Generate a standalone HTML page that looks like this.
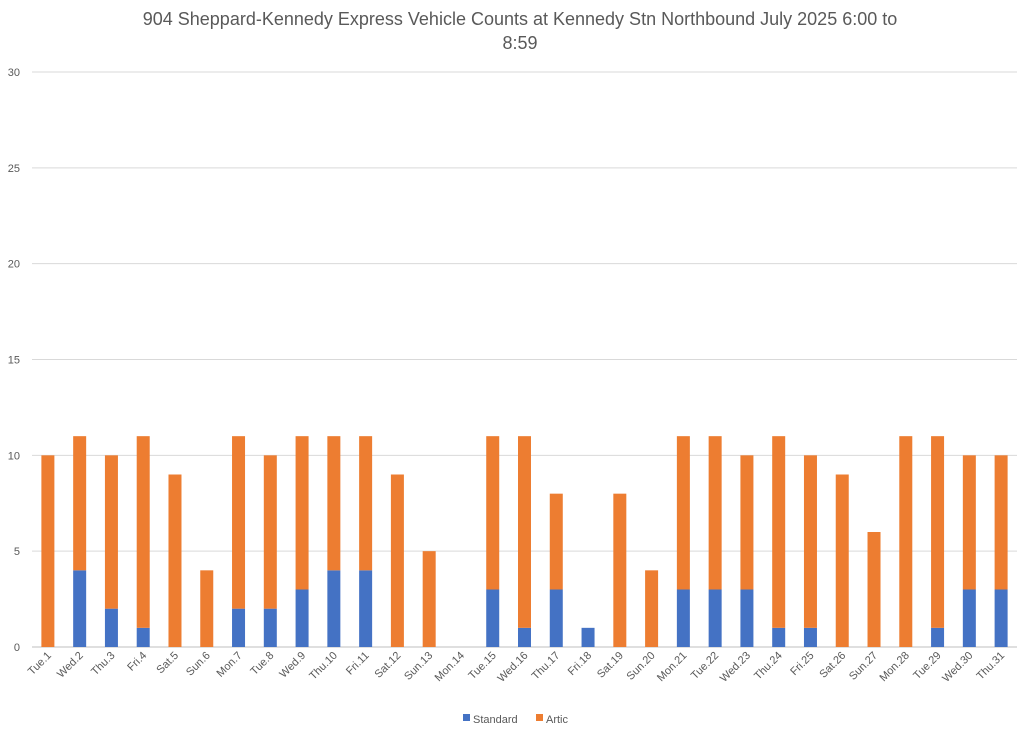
<!DOCTYPE html>
<html><head><meta charset="utf-8"><style>
body{margin:0;background:#fff;font-family:"Liberation Sans",sans-serif;}
</style></head><body>
<svg id="chart" width="1024" height="727" xmlns="http://www.w3.org/2000/svg">
<text x="520" y="25" text-anchor="middle" font-size="18" fill="#595959">904 Sheppard-Kennedy Express Vehicle Counts at Kennedy Stn Northbound July 2025  6:00 to</text>
<text x="520" y="49" text-anchor="middle" font-size="18" fill="#595959">8:59</text>
<g id="grid"></g><g id="bars"></g><g id="xlabels"></g>
<g>
<rect x="463" y="714" width="7" height="7" fill="#4472c4"/>
<text x="473" y="723" font-size="11" fill="#595959">Standard</text>
<rect x="536" y="714" width="7" height="7" fill="#ed7d31"/>
<text x="546" y="723" font-size="11" fill="#595959">Artic</text>
</g>
</svg>
<script>
const categories=["Tue.1","Wed.2","Thu.3","Fri.4","Sat.5","Sun.6","Mon.7","Tue.8","Wed.9","Thu.10","Fri.11","Sat.12","Sun.13","Mon.14","Tue.15","Wed.16","Thu.17","Fri.18","Sat.19","Sun.20","Mon.21","Tue.22","Wed.23","Thu.24","Fri.25","Sat.26","Sun.27","Mon.28","Tue.29","Wed.30","Thu.31"];
const standard=[0,4,2,1,0,0,2,2,3,4,4,0,0,0,3,1,3,1,0,0,3,3,3,1,1,0,0,0,1,3,3];
const artic=[10,7,8,10,9,4,9,8,8,7,7,9,5,0,8,10,5,0,8,4,8,8,7,10,9,9,6,11,10,7,7];
const yTicks=[0,5,10,15,20,25,30];
const NS="http://www.w3.org/2000/svg";
const x0=32,x1=1017,y0=647,y1=72,ymax=30;
const bw=(x1-x0)/categories.length;
const xc=i=>x0+bw*(i+0.5);
const y=v=>y0-(v/ymax)*(y0-y1);
function mk(t,a,p){const e=document.createElementNS(NS,t);for(const k in a)e.setAttribute(k,a[k]);p.appendChild(e);return e;}
const g=document.getElementById('grid');
yTicks.forEach(v=>{
 const l=mk('line',{x1:x0,x2:x1,y1:y(v),y2:y(v),stroke:v===0?'#bfbfbf':'#d9d9d9','stroke-width':1},g);
 
 
 const t=mk('text',{x:20,y:y(v)+4,'text-anchor':'end','font-size':11,fill:'#595959'},g);
 t.textContent=v;
 
 
});
const b=document.getElementById('bars'),xl=document.getElementById('xlabels');
categories.forEach((c,i)=>{
 const w=13,cx=xc(i);
 const r1=mk('rect',{x:cx-w/2,y:y(standard[i]),width:w,height:y0-y(standard[i]),fill:'#4472c4'},b);
 
 
 const r2=mk('rect',{x:cx-w/2,y:y(standard[i]+artic[i]),width:w,height:y(standard[i])-y(standard[i]+artic[i]),fill:'#ed7d31'},b);
 
 
 const t=mk('text',{x:cx+4,y:656,'text-anchor':'end','font-size':11,fill:'#595959',transform:`rotate(-45 ${cx+4} 656)`},xl);
 t.textContent=c;
 
 
});
</script>
</body></html>
